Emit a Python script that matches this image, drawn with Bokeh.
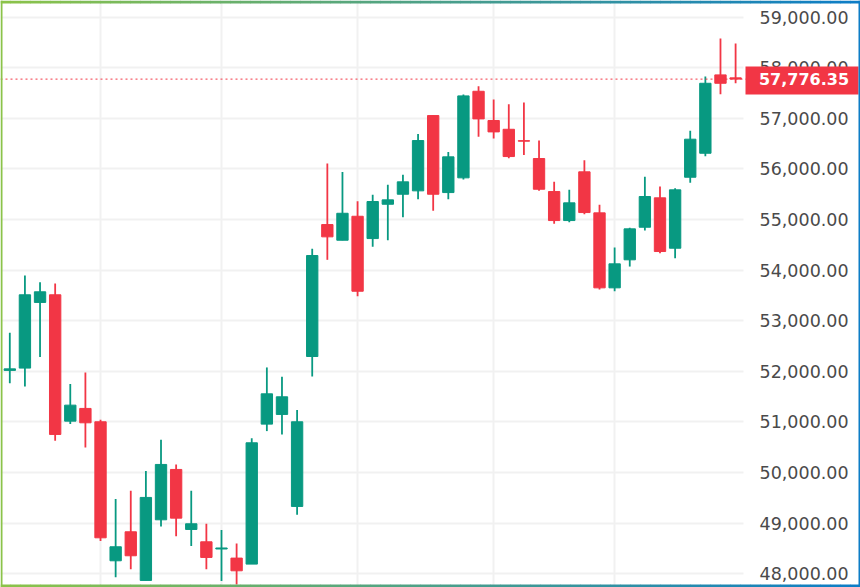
from bokeh.plotting import figure
from bokeh.models import FixedTicker, NumeralTickFormatter, Span, Label, BoxAnnotation, ColumnDataSource
from bokeh.embed import file_html
from bokeh.resources import INLINE

opens = [52020,52065,53363,53514,51017,51268,51004,48257,48830,47868,49067,50062,48876,48632,48490,48310,48191,
         50958,51149,49331,52294,54902,54592,55066,54625,55303,55501,55568,57056,55534,55825,57536,56958,56785,56560,
         56207,55554,54981,55944,55133,53651,54205,54849,55430,54434,55837,56311,57860,57801]
closes = [52050,53514,53573,50754,51333,50984,48711,48534,48356,49509,50161,49100,48988,48323,48510,48059,50589,
          51557,51498,51004,54290,54659,55125,53584,55357,55390,55746,56562,55501,56240,57445,56990,56733,56246,56550,
          55600,54981,55331,55139,53651,54126,54817,55456,54369,55588,56589,57694,57694,57776.35]
highs = [52763,53896,53764,53738,51749,51979,51044,49476,49640,50029,50648,50161,49640,48988,48863,48600,50681,
         52078,51893,51235,54422,56108,55943,55362,55489,55687,55884,56694,57056,56338,57471,57635,57372,57280,57313,
         56562,55746,55588,56173,55291,54447,54837,55845,55653,55619,56754,57827,58578,58479]
lows = [51768,51702,52282,50629,50958,50497,48646,47934,48092,47868,48935,48744,48547,48092,47855,47789,48191,
        50820,50754,49166,51899,54205,54592,53485,54462,54592,55047,55402,55173,55402,55791,56635,56601,56213,56279,
        55568,54916,54948,55106,53618,53584,54072,54783,54336,54236,55726,56252,57477,57694]
tick_values = [48000,49000,50000,51000,52000,53000,54000,55000,56000,57000,58000,59000]
time_grid_indices = [6,14,23,32,40]
last_price = 57776.35
last_price_label = "57,776.35"

UP = "#089981"
DOWN = "#F23645"
GRID = "#f1f1f1"

idx = list(range(len(opens)))
colors = [UP if c >= o else DOWN for o, c in zip(opens, closes)]
src = ColumnDataSource(dict(x=idx, o=opens, c=closes, h=highs, l=lows, color=colors))

W, H = 860, 587
p = figure(width=W, height=H, x_range=(-0.615, 56.26), y_range=(47729, 59330),
           output_backend="svg", toolbar_location=None, y_axis_location="right",
           min_border=0, min_border_left=0, min_border_right=0, min_border_top=0, min_border_bottom=0)
p.outline_line_color = None
p.background_fill_color = "white"
p.border_fill_color = "white"

p.xaxis.visible = False
p.xgrid.ticker = FixedTicker(ticks=time_grid_indices)
p.xgrid.grid_line_color = GRID
p.xgrid.grid_line_width = 2
p.ygrid.grid_line_color = GRID
p.ygrid.grid_line_width = 2

ax = p.yaxis[0]
ax.fixed_location = 48.525
ax.ticker = FixedTicker(ticks=tick_values)
ax.formatter = NumeralTickFormatter(format="0,0.00")
ax.axis_line_color = None
ax.major_tick_line_color = None
ax.minor_tick_line_color = None
ax.major_tick_out = 0
ax.major_label_standoff = 16
ax.major_label_text_font = "DejaVu Sans"
ax.major_label_text_font_size = "17.5px"
ax.major_label_text_color = "#4a4a4a"


def box(left, right, top, bottom, color, level="overlay"):
    """Rectangle in window pixels, measured from the top-left corner."""
    p.add_layout(BoxAnnotation(left=left, right=right, top=H - top, bottom=H - bottom,
                               left_units="screen", right_units="screen",
                               top_units="screen", bottom_units="screen",
                               fill_color=color, fill_alpha=1, line_alpha=0, level=level))


# price-scale panel hides the grid rays
box(743, W, 0, H, "white", level="glyph")

p.segment("x", "h", "x", "l", source=src, color="color", line_width=1.8)
p.vbar(x="x", width=0.75, top="o", bottom="c", source=src, fill_color="color", line_color="color", line_width=1)

p.add_layout(Span(location=last_price, dimension="width", line_color=DOWN, line_width=1, line_dash=[2, 3]))

box(745, 858, 66, 94, DOWN)
p.add_layout(Label(x=803.5, x_units="screen", y=last_price, y_units="data", text=last_price_label,
                   text_color="white", text_font="DejaVu Sans", text_font_style="bold", text_font_size="16px",
                   text_align="center", text_baseline="middle", level="overlay"))


def lerp(t):
    a, b = (139, 195, 74), (13, 125, 198)
    return "#%02x%02x%02x" % tuple(round(a[i] + (b[i] - a[i]) * t) for i in range(3))


N = 86
for k in range(N):
    c = lerp(k / (N - 1))
    l, r = W * k / N, W * (k + 1) / N + 0.5
    box(l, r, 0, 3, c)
    box(l, r, H - 3, H, c)
box(0, 2, 0, H, lerp(0))
box(W - 2, W, 0, H, lerp(1))

open("out.html", "w").write(file_html(p, INLINE))
